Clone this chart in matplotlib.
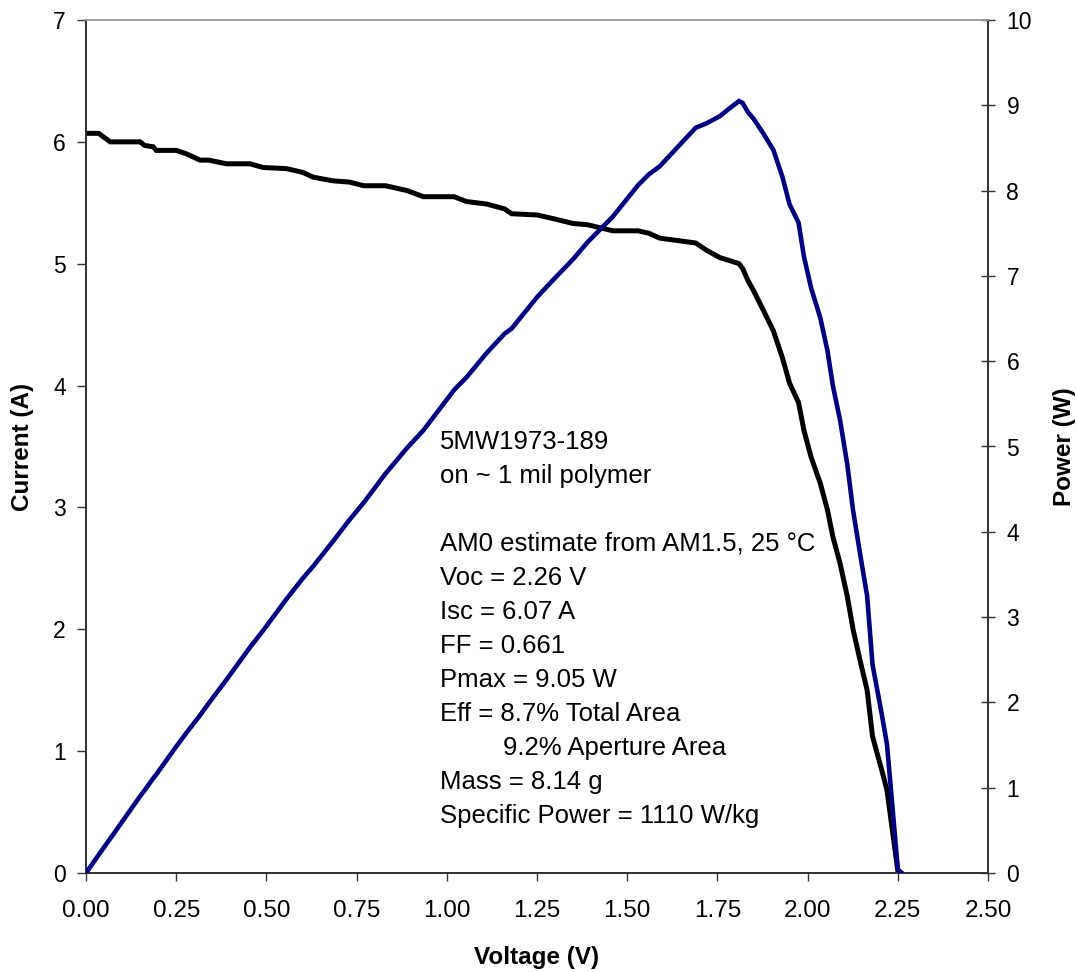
import matplotlib
matplotlib.use("Agg")
import matplotlib.pyplot as plt
from matplotlib.ticker import FormatStrFormatter, MultipleLocator

plt.rcParams['font.family'] = ['Liberation Sans', 'DejaVu Sans']

# measured I-V sweep of the cell
voltage = [0.000, 0.035, 0.067, 0.150, 0.163, 0.186, 0.195, 0.250, 0.280, 0.316,
           0.340, 0.390, 0.455, 0.490, 0.556, 0.600, 0.630, 0.685, 0.730, 0.770,
           0.830, 0.890, 0.935, 1.020, 1.055, 1.110, 1.160, 1.180, 1.250, 1.295,
           1.350, 1.390, 1.460, 1.530, 1.560, 1.590, 1.665, 1.690, 1.720, 1.757,
           1.790, 1.810, 1.820, 1.835, 1.850, 1.877, 1.905, 1.930, 1.950, 1.975,
           1.990, 2.010, 2.035, 2.055, 2.070, 2.090, 2.110, 2.126, 2.145, 2.165,
           2.180, 2.205, 2.220, 2.230, 2.240, 2.250, 2.260]
current = [6.07, 6.07, 6.00, 6.00, 5.97, 5.96, 5.93, 5.93, 5.90, 5.85,
           5.85, 5.82, 5.82, 5.79, 5.78, 5.75, 5.71, 5.68, 5.67, 5.64,
           5.64, 5.60, 5.55, 5.55, 5.51, 5.49, 5.45, 5.41, 5.40, 5.37,
           5.33, 5.32, 5.27, 5.27, 5.25, 5.21, 5.18, 5.17, 5.11, 5.05,
           5.02, 5.00, 4.96, 4.86, 4.78, 4.62, 4.45, 4.23, 4.02, 3.86,
           3.63, 3.41, 3.20, 2.98, 2.76, 2.54, 2.27, 2.00, 1.75, 1.50,
           1.12, 0.85, 0.68, 0.46, 0.24, 0.02, 0.00]
# power from the same sweep, P = V * I
power = [v * i for v, i in zip(voltage, current)]

notes = [
    ("5MW1973-189", 449),
    ("on ~ 1 mil polymer", 483),
    ("AM0 estimate from AM1.5, 25 \u00b0C", 551),
    ("Voc = 2.26 V", 585),
    ("Isc = 6.07 A", 619),
    ("FF = 0.661", 653),
    ("Pmax = 9.05 W", 687),
    ("Eff = 8.7% Total Area", 721),
    ("Mass = 8.14 g", 789),
    ("Specific Power = 1110 W/kg", 823),
]
indent_note = ("9.2% Aperture Area", 755)

fig = plt.figure(figsize=(10.77, 9.72), dpi=100)
ax = fig.add_axes([86 / 1077, 99 / 972, 902 / 1077, 853 / 972])
ax2 = ax.twinx()

ax.plot(voltage, current, color='black', lw=3.6, solid_joinstyle='miter', zorder=3)
ax2.plot(voltage, power, color='#000080', lw=3.3, solid_joinstyle='miter', zorder=3)

ax.set_xlim(0, 2.5)
ax.set_ylim(0, 7)
ax2.set_ylim(0, 10)
ax.xaxis.set_major_locator(MultipleLocator(0.25))
ax.xaxis.set_major_formatter(FormatStrFormatter('%.2f'))
ax.yaxis.set_major_locator(MultipleLocator(1))
ax2.yaxis.set_major_locator(MultipleLocator(1))

for a in (ax, ax2):
    for side in ('left', 'bottom', 'right'):
        a.spines[side].set_color('#333333')
        a.spines[side].set_linewidth(1.3)
    a.spines['top'].set_color('#a0a0a0')
    a.spines['top'].set_linewidth(1.2)

ax.tick_params(axis='x', direction='out', length=5.5, width=1, color='#333333',
               pad=14, labelsize=17.5)
ax.tick_params(axis='y', direction='out', length=6.5, width=1, color='#333333',
               pad=8, labelsize=16.5)
ax2.tick_params(axis='y', direction='inout', length=10.5, width=1, color='#333333',
                pad=8, labelsize=16.5)

ax.set_xlabel('Voltage (V)', fontsize=17.5, fontweight='bold')
ax.set_ylabel('Current (A)', fontsize=17.5, fontweight='bold')
ax2.set_ylabel('Power (W)', fontsize=17.5, fontweight='bold', rotation=90)
ax.xaxis.set_label_coords(0.5, (873 - 957) / 853, transform=ax.transAxes)
ax.yaxis.set_label_coords((22 - 86) / 902, 0.5)
ax2.yaxis.set_label_coords((1065 - 86) / 902, 0.5)
ax.xaxis.label.set_va('center')
ax.yaxis.label.set_va('center')
ax2.yaxis.label.set_va('center')

for txt, base in notes:
    ax.text((440 - 86) / 902, (873 - base) / 853, txt, transform=ax.transAxes,
            fontsize=18.5, va='baseline', ha='left')
ax.text((503 - 86) / 902, (873 - indent_note[1]) / 853, indent_note[0],
        transform=ax.transAxes, fontsize=18.5, va='baseline', ha='left')

fig.savefig('out.png', dpi=100)
